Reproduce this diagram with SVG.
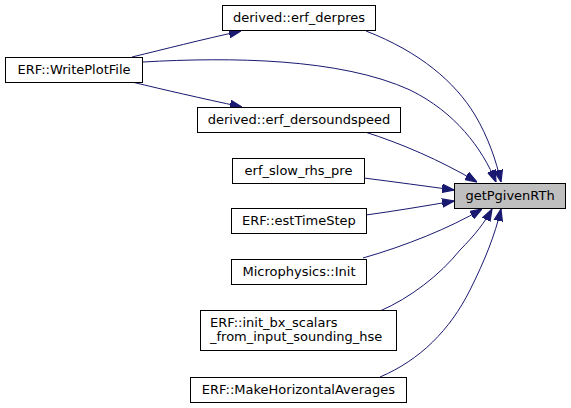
<svg xmlns="http://www.w3.org/2000/svg" width="571" height="408" viewBox="0 0 571 408">
<defs>
<style>
.node rect{fill:#ffffff;stroke:#000000;stroke-width:1}
.node.cur rect{fill:#bfbfbf}
.node text{font-family:"DejaVu Sans",sans-serif;font-size:13px;fill:#000000}
.edges path{fill:none;stroke:#191970;stroke-width:1}
</style>
<marker id="ah" markerUnits="userSpaceOnUse" markerWidth="12" markerHeight="10" refX="10" refY="3.5" orient="auto" viewBox="0 0 10 7">
<path d="M0,0 L10,3.5 L0,7 z" fill="#191970" stroke="#191970"/>
</marker>
</defs>
<rect width="571" height="408" fill="#ffffff"/>
<g class="edges">
<path d="M132,57 C165,49 200,40 241,31" marker-end="url(#ah)"/>
<path d="M143,62 C230,57 340,58 410,90 C455,112 482,148 496,182" marker-end="url(#ah)"/>
<path d="M132,82 C165,90 200,98 242,107" marker-end="url(#ah)"/>
<path d="M366,31 C420,52 455,82 475,115 C488,137 496,160 501,182" marker-end="url(#ah)"/>
<path d="M365,132 C400,143 440,160 477,182" marker-end="url(#ah)"/>
<path d="M364,178 C395,182 425,186 454,190" marker-end="url(#ah)"/>
<path d="M366,215 C395,211 425,206 454,201" marker-end="url(#ah)"/>
<path d="M363,258 C405,246 450,228 482,209" marker-end="url(#ah)"/>
<path d="M380,311 C410,298 440,275 460,250 C475,235 485,222 492,209" marker-end="url(#ah)"/>
<path d="M380,377 C420,360 450,330 470,290 C485,260 495,235 501,209" marker-end="url(#ah)"/>
</g>
<g id="node-getPgivenRTh" class="node cur">
<rect x="454.5" y="183.5" width="111" height="25"/>
<text x="510" y="200" text-anchor="middle">getPgivenRTh</text>
</g>
<g id="node-erf_derpres" class="node">
<rect x="222.5" y="5.5" width="153" height="25"/>
<text x="299" y="22" text-anchor="middle">derived::erf_derpres</text>
</g>
<g id="node-WritePlotFile" class="node">
<rect x="5.5" y="57.5" width="137" height="25"/>
<text x="74" y="74" text-anchor="middle">ERF::WritePlotFile</text>
</g>
<g id="node-erf_dersoundspeed" class="node">
<rect x="197.5" y="107.5" width="203" height="25"/>
<text x="299" y="124" text-anchor="middle">derived::erf_dersoundspeed</text>
</g>
<g id="node-erf_slow_rhs_pre" class="node">
<rect x="232.5" y="158.5" width="132" height="25"/>
<text x="298.5" y="175" text-anchor="middle">erf_slow_rhs_pre</text>
</g>
<g id="node-estTimeStep" class="node">
<rect x="231.5" y="208.5" width="135" height="25"/>
<text x="299" y="225" text-anchor="middle">ERF::estTimeStep</text>
</g>
<g id="node-MicrophysicsInit" class="node">
<rect x="231.5" y="259.5" width="135" height="25"/>
<text x="299" y="276" text-anchor="middle">Microphysics::Init</text>
</g>
<g id="node-init_bx_scalars" class="node">
<rect x="200.5" y="310.5" width="196" height="40"/>
<text x="210" y="326.5">ERF::init_bx_scalars</text>
<text x="210" y="340.5">_from_input_sounding_hse</text>
</g>
<g id="node-MakeHorizontalAverages" class="node">
<rect x="190.5" y="377.5" width="216" height="25"/>
<text x="298.5" y="394" text-anchor="middle">ERF::MakeHorizontalAverages</text>
</g>
</svg>
